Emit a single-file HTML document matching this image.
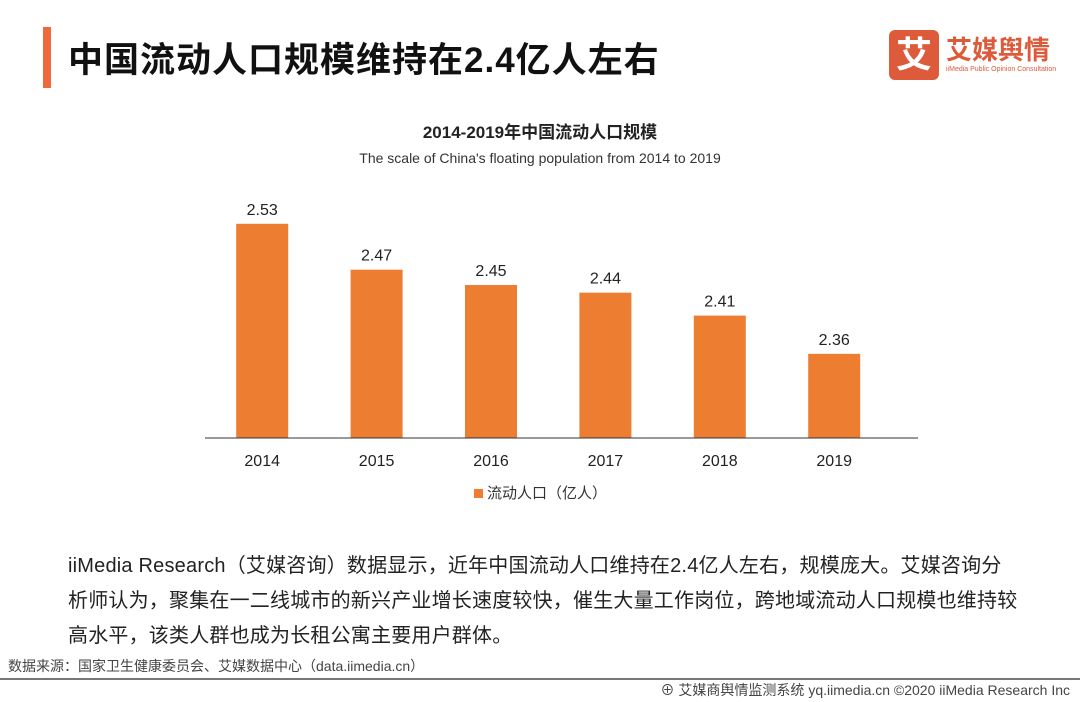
<!DOCTYPE html>
<html><head><meta charset="utf-8"><style>
body{margin:0;width:1080px;height:702px;background:#fff;position:relative;overflow:hidden;font-family:"Liberation Sans","Noto Sans CJK SC",sans-serif;}
.abs{position:absolute;}
</style></head><body>
<div class="abs" style="left:43px;top:27px;width:8px;height:61px;background:#ee6a3a"></div>
<div class="abs" style="left:68px;top:32px;font-size:35px;font-weight:bold;color:#111;letter-spacing:1px">中国流动人口规模维持在2.4亿人左右</div>
<div class="abs" style="left:889px;top:30px;width:50px;height:50px;background:#dd5b3b;border-radius:6px;color:#fff;font-size:36px;font-weight:bold;text-align:center;line-height:50px">艾</div>
<div class="abs" style="left:946px;top:30px;font-size:26px;color:#dd5b3b;font-weight:bold">艾媒舆情</div>
<div class="abs" style="left:946px;top:66px;font-size:7px;color:#dd5b3b">iiMedia Public Opinion Consultation</div>
<div class="abs" style="left:0;width:1080px;top:118px;text-align:center;font-size:17px;font-weight:bold;color:#222">2014-2019年中国流动人口规模</div>
<div class="abs" style="left:0;width:1080px;top:150px;text-align:center;font-size:14px;color:#333">The scale of China's floating population from 2014 to 2019</div>
<svg class="abs" style="left:0;top:0" width="1080" height="520" id="chart"></svg>
<div class="abs" style="left:474px;top:482px;font-size:15px;color:#333"><span style="display:inline-block;width:9px;height:9px;background:#ed7d31;margin-right:4px"></span>流动人口（亿人）</div>
<div class="abs" style="left:68px;top:549px;width:1000px;font-size:20px;line-height:35px;color:#222;letter-spacing:0.2px;white-space:nowrap">iiMedia Research（艾媒咨询）数据显示，近年中国流动人口维持在2.4亿人左右，规模庞大。艾媒咨询分<br>析师认为，聚集在一二线城市的新兴产业增长速度较快，催生大量工作岗位，跨地域流动人口规模也维持较<br>高水平，该类人群也成为长租公寓主要用户群体。</div>
<div class="abs" style="left:8px;top:656px;font-size:14px;color:#444">数据来源：国家卫生健康委员会、艾媒数据中心（data.iimedia.cn）</div>
<div class="abs" style="left:0;top:678px;width:1080px;height:2px;background:#777"></div>
<div class="abs" style="right:10px;top:680px;font-size:14px;color:#444">⊕ 艾媒商舆情监测系统 yq.iimedia.cn ©2020 iiMedia Research Inc</div>
<script>
const categories=["2014","2015","2016","2017","2018","2019"];
const values=[2.53,2.47,2.45,2.44,2.41,2.36];
const svg=document.getElementById('chart');
const NS='http://www.w3.org/2000/svg';
const x0=205,x1=918,base=438,step=114.4;
function xc(i){return x0+step*(i+0.5);}
function y(v){return base-(v-2.25)*765;}
function mk(t,a){const e=document.createElementNS(NS,t);for(const k in a)e.setAttribute(k,a[k]);svg.appendChild(e);return e;}
values.forEach((v,i)=>{
 const r=mk('rect',{x:xc(i)-26,y:y(v),width:52,height:base-y(v),fill:'#ed7d31'});
 
 
 const t=mk('text',{x:xc(i),y:y(v)-9,'text-anchor':'middle','font-size':16,fill:'#222'});
 t.textContent=v.toFixed(2);
 
 
 const c=mk('text',{x:xc(i),y:466,'text-anchor':'middle','font-size':16,fill:'#222'});
 c.textContent=categories[i];
 
 
});
const ax=mk('line',{x1:x0,x2:x1,y1:base,y2:base,stroke:'#333','stroke-width':1});


</script>
</body></html>
